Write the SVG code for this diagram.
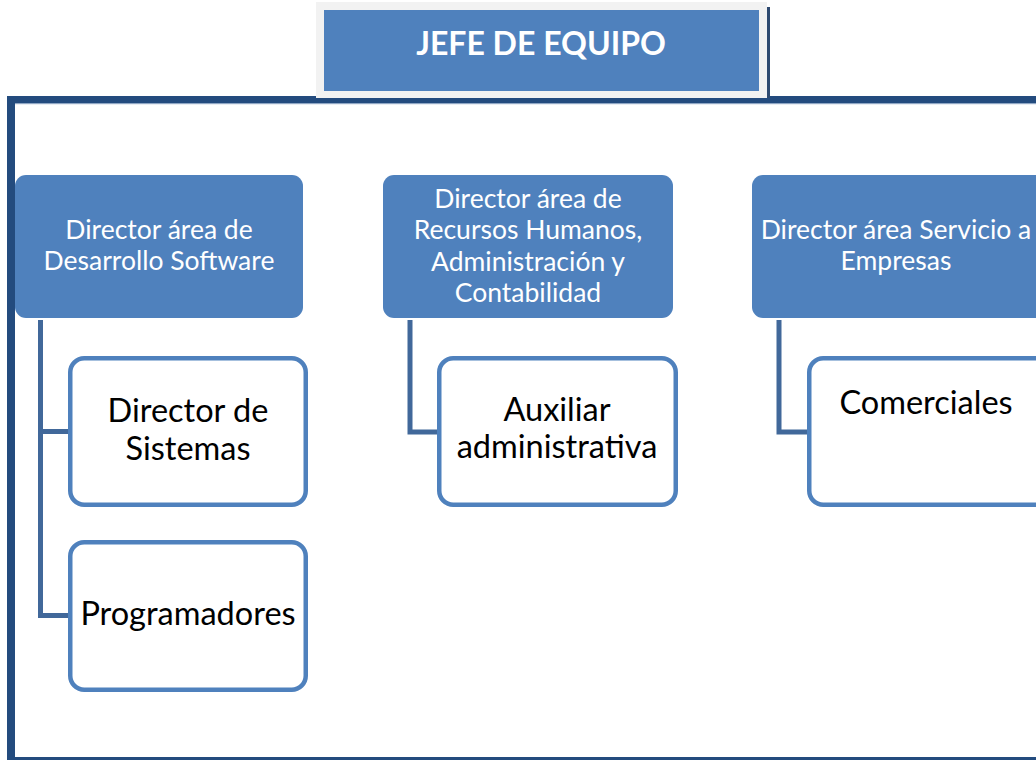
<svg xmlns="http://www.w3.org/2000/svg" width="1036" height="760" viewBox="0 0 1036 760">
<style>
.hdr{fill:#4F81BD}
.child{fill:#FFFFFF;stroke:#4F81BD;stroke-width:4.5}
.conn{fill:none;stroke:#41689A;stroke-width:5}
.ht{font-family:"Lato","Open Sans",sans-serif;font-size:26.5px;fill:#FFFFFF;text-anchor:middle}
.ct{font-family:"Lato","Open Sans",sans-serif;font-size:32.5px;fill:#000000;text-anchor:middle}
.tt{font-family:"Lato","Open Sans",sans-serif;font-size:32px;font-weight:bold;fill:#FFFFFF;text-anchor:middle}
</style>
<rect width="1036" height="760" fill="#FFFFFF"/>
<g id="frame">
<rect x="7" y="96" width="1029" height="8" fill="#234B7E"/>
<rect x="7" y="96" width="8" height="664" fill="#234B7E"/>
<rect x="7" y="757" width="1029" height="3" fill="#234B7E"/>
<rect x="15" y="103" width="1021" height="1.2" fill="#8FA6C4"/>
</g>
<g id="jefe">
<rect x="767" y="7" width="3" height="91" fill="#2E4A70"/>
<rect x="316" y="2" width="451" height="96" fill="#F2F2F2"/>
<rect x="324" y="10" width="435" height="81" fill="#4F81BD"/>
<text class="tt" x="541" y="55">JEFE DE EQUIPO</text>
</g>
<g id="connectors">
<path class="conn" d="M40.5,320 V615.5 H70"/>
<path class="conn" d="M40.5,431.5 H70"/>
<path class="conn" d="M410,320 V432 H437"/>
<path class="conn" d="M779,320 V432 H807"/>
</g>
<g id="dir-desarrollo">
<rect class="hdr" x="15" y="175" width="288" height="143" rx="11"/>
<text class="ht" x="159" y="239">Director área de</text>
<text class="ht" x="159" y="270">Desarrollo Software</text>
</g>
<g id="dir-rrhh">
<rect class="hdr" x="383" y="175" width="290" height="143" rx="11"/>
<text class="ht" x="528" y="208">Director área de</text>
<text class="ht" x="528" y="239">Recursos Humanos,</text>
<text class="ht" x="528" y="271">Administración y</text>
<text class="ht" x="528" y="302">Contabilidad</text>
</g>
<g id="dir-servicio">
<rect class="hdr" x="752" y="175" width="300" height="143" rx="11"/>
<text class="ht" x="896" y="239">Director área Servicio a</text>
<text class="ht" x="896" y="270">Empresas</text>
</g>
<g id="sistemas">
<rect class="child" x="70.25" y="358.25" width="235.5" height="146.5" rx="14"/>
<text class="ct" x="188" y="422">Director de</text>
<text class="ct" x="188" y="460">Sistemas</text>
</g>
<g id="programadores">
<rect class="child" x="70.25" y="542.25" width="235.5" height="147.5" rx="14"/>
<text class="ct" x="188" y="625">Programadores</text>
</g>
<g id="auxiliar">
<rect class="child" x="439.25" y="358.25" width="236.5" height="146.5" rx="14"/>
<text class="ct" x="557" y="421">Auxiliar</text>
<text class="ct" x="557" y="458">administrativa</text>
</g>
<g id="comerciales">
<rect class="child" x="809.25" y="358.25" width="240" height="146.5" rx="14"/>
<text class="ct" x="926" y="414">Comerciales</text>
</g>
</svg>
